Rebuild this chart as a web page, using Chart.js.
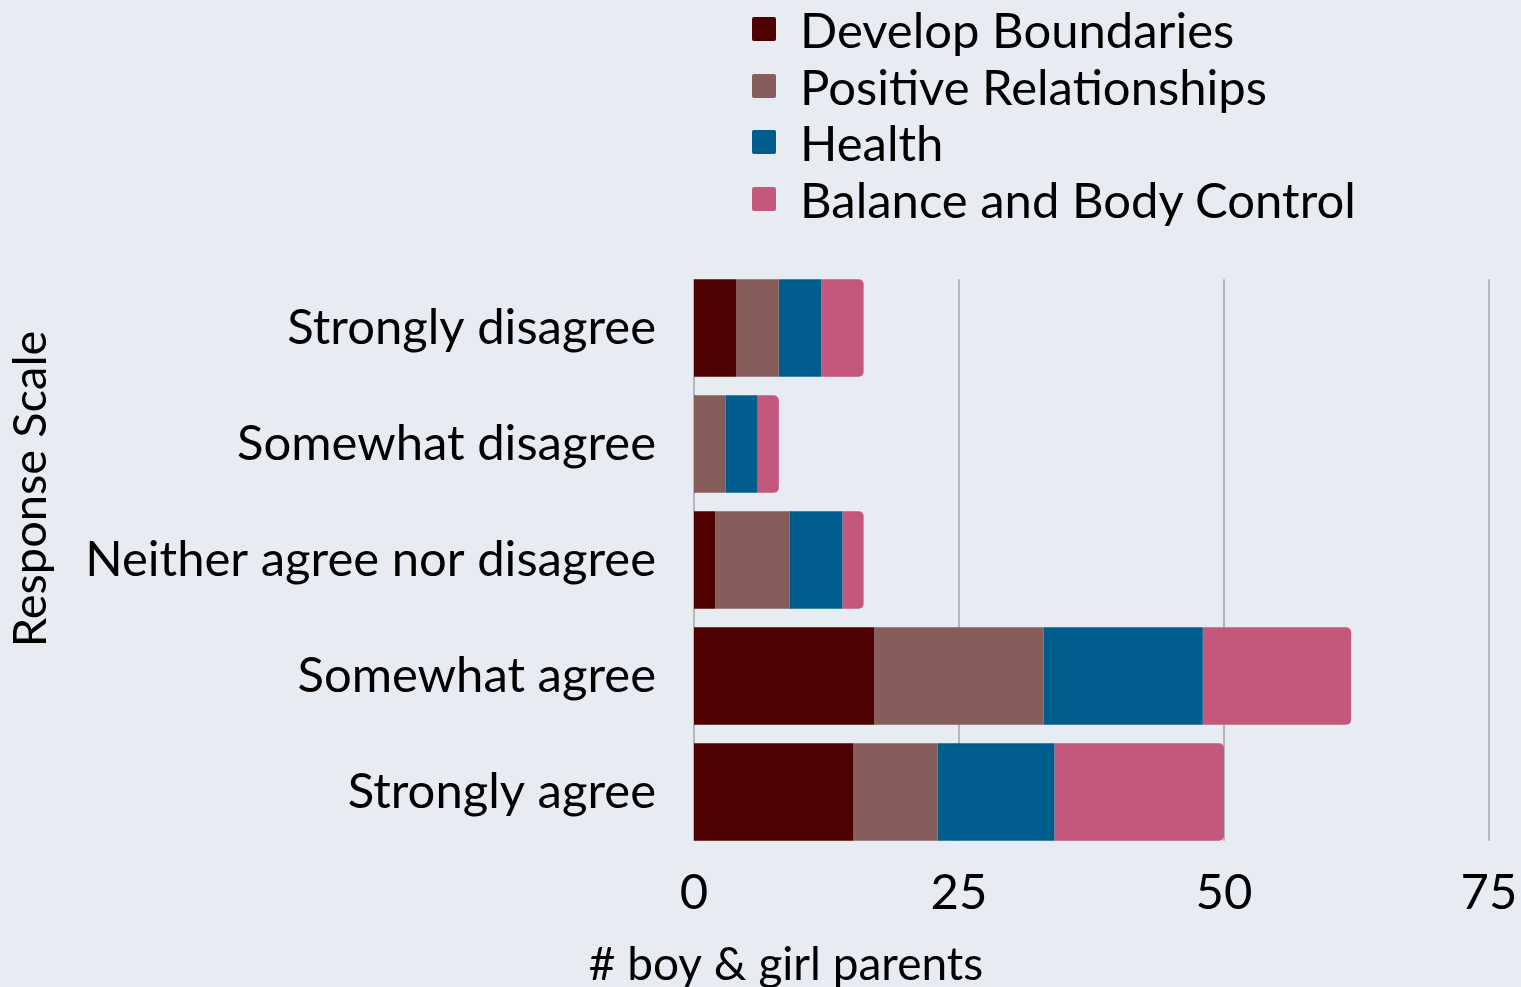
<!DOCTYPE html>
<html>
<head>
<meta charset="utf-8">
<script src="https://cdn.jsdelivr.net/npm/chart.js@4.4.1/dist/chart.umd.min.js"></script>
<style>
	html, body { margin: 0; padding: 0; background: #e7ecf3; overflow: hidden; }
	#wrap { position: relative; width: 1521px; height: 987px; overflow: hidden; }
	#legend { position: absolute; left: 752px; top: 1px; font-family: Lato, sans-serif; font-size: 49px; color: #000; }
	.item { display: flex; align-items: center; height: 56.5px; }
	.box { width: 24px; height: 24px; margin-right: 24px; border-radius: 2px; }
</style>
</head>
<body>
<div id="wrap">
	<canvas id="chart" width="1521" height="987"></canvas>
	<div id="legend"></div>
</div>
<script>
const categories = ["Strongly disagree", "Somewhat disagree", "Neither agree nor disagree", "Somewhat agree", "Strongly agree"];
const seriesNames = ["Develop Boundaries", "Positive Relationships", "Health", "Balance and Body Control"];
const developBoundaries = [4, 0, 2, 17, 15];
const positiveRelationships = [4, 3, 7, 16, 8];
const health = [4, 3, 5, 15, 11];
const balanceBodyControl = [4, 2, 2, 14, 16];
const xTicks = [0, 25, 50, 75];
const colors = ["#4f0000", "#875d5c", "#005e8e", "#c3577c"];

const font = "Lato, sans-serif";
const allSeries = [developBoundaries, positiveRelationships, health, balanceBodyControl];

// legend as plain html, one item per row
const legend = document.getElementById("legend");
seriesNames.forEach((name, i) => {
	legend.insertAdjacentHTML("beforeend",
		`<div class="item"><div class="box" style="background:${colors[i]}"></div><span>${name}</span></div>`);
});

// axis titles are not centred on the plot area in the reference, so draw them by hand
const axisTitles = {
	id: "axisTitles",
	afterDraw(chart) {
		const ctx = chart.ctx;
		ctx.save();
		ctx.fillStyle = "#000";
		ctx.textAlign = "center";
		ctx.textBaseline = "alphabetic";
		ctx.font = "46px " + font;
		ctx.fillText("# boy & girl parents", 786, 980);
		ctx.font = "47px " + font;
		ctx.translate(46, 489);
		ctx.rotate(-Math.PI / 2);
		ctx.fillText("Response Scale", 0, 0);
		ctx.restore();
	}
};

// vertical grid lines only run from the top of the first bar to the bottom of the last one
const barGrid = {
	id: "barGrid",
	beforeDatasetsDraw(chart) {
		const bars = chart.getDatasetMeta(0).data;
		const first = bars[0], last = bars[bars.length - 1];
		const top = first.y - first.height / 2;
		const bottom = last.y + last.height / 2;
		const ctx = chart.ctx;
		ctx.save();
		ctx.strokeStyle = "#b3b6ba";
		ctx.lineWidth = 2;
		xTicks.forEach(v => {
			const x = chart.scales.x.getPixelForValue(v);
			ctx.beginPath();
			ctx.moveTo(x, top);
			ctx.lineTo(x, bottom);
			ctx.stroke();
		});
		ctx.restore();
	}
};

new Chart(document.getElementById("chart").getContext("2d"), {
	type: "bar",
	data: {
		labels: categories,
		datasets: seriesNames.map((name, i) => ({
			label: name,
			data: allSeries[i],
			backgroundColor: colors[i],
			borderWidth: 0,
			borderRadius: 5,
			categoryPercentage: 0.841,
			barPercentage: 1,
		})),
	},
	options: {
		indexAxis: "y",
		responsive: false,
		animation: false,
		devicePixelRatio: 1,
		layout: { padding: { top: 270, right: 32, left: 0, bottom: 0 } },
		plugins: { legend: { display: false }, tooltip: { enabled: false } },
		scales: {
			x: {
				stacked: true,
				min: 0,
				max: 75,
				afterBuildTicks: scale => { scale.ticks = xTicks.map(v => ({ value: v })); },
				afterFit: scale => { scale.height = 137; scale.paddingRight = 0; },
				ticks: { color: "#000", font: { family: font, size: 49 }, padding: 14 },
				grid: { display: false, drawTicks: false },
				border: { display: false },
			},
			y: {
				stacked: true,
				afterFit: scale => { scale.width = 694; },
				ticks: { color: "#000", font: { family: font, size: 49 }, padding: 38 },
				grid: { display: false, drawTicks: false },
				border: { display: false },
			},
		},
	},
	plugins: [barGrid, axisTitles],
});
</script>
</body>
</html>
